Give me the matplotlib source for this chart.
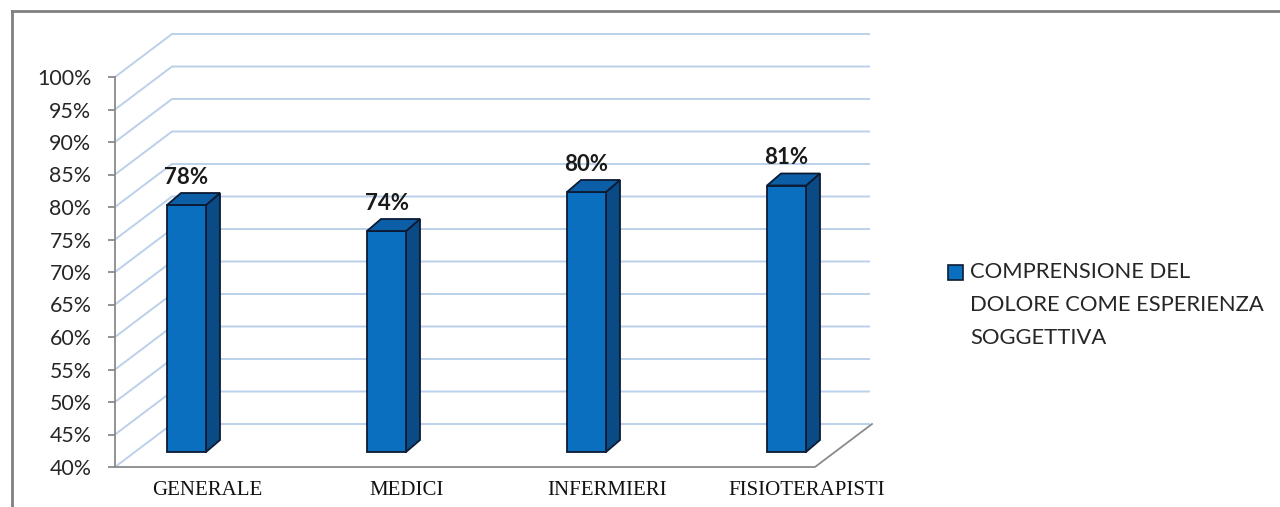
import matplotlib.pyplot as plt
from matplotlib.patches import Polygon, Rectangle
from matplotlib.lines import Line2D

categories = ["GENERALE", "MEDICI", "INFERMIERI", "FISIOTERAPISTI"]
values = [78, 74, 80, 81]
labels = ["78%", "74%", "80%", "81%"]
yticks = list(range(40, 101, 5))
legend_text = "COMPRENSIONE DEL\nDOLORE COME ESPERIENZA\nSOGGETTIVA"

FRONT = "#0A6FBE"
SIDE = "#0A4A85"
TOP = "#0C5EA6"
EDGE = "#0d1a33"
GRID = "#BBD0EA"
AXIS = "#8a8a8a"

W, H = 1280, 507
fig = plt.figure(figsize=(W / 100, H / 100), dpi=100)

# plot area in pixels: x 115..870, y 467 (40%) .. 34
px_per_cat = 200.0
px_per_pct = 6.5
x_lo = (115 - 207) / px_per_cat
x_hi = (870 - 207) / px_per_cat
y_lo = 40
y_hi = 40 + (467 - 34) / px_per_pct
ax = fig.add_axes([115 / W, (H - 467) / H, (870 - 115) / W, (467 - 34) / H])
ax.set_xlim(x_lo, x_hi)
ax.set_ylim(y_lo, y_hi)

# depth of the 3d box
ddx = 57 / px_per_cat
ddy = 43 / px_per_pct
floor_right = (815 - 207) / px_per_cat

# back wall gridlines with the diagonal on the left wall
for v in yticks:
    ax.plot([x_lo, x_lo + ddx, x_hi], [v, v + ddy, v + ddy],
            color=GRID, lw=1.4, zorder=1, clip_on=False, solid_capstyle="butt")

# floor outline
ax.plot([x_lo, floor_right, floor_right + ddx], [40, 40, 40 + ddy],
        color=AXIS, lw=1.3, zorder=2, clip_on=False)

# bars: front face via ax.bar, then side and top faces
bar_w = 39 / px_per_cat
bar_off = -40 / px_per_cat
base = 40 + 15 / px_per_pct
lift = 15 / px_per_pct
sx = 14 / px_per_cat
sy = 12 / px_per_pct
xs = [i + bar_off for i in range(len(categories))]
tops = [v + lift for v in values]
ax.bar(xs, [t - base for t in tops], width=bar_w, bottom=base, align="edge",
       color=FRONT, edgecolor=EDGE, linewidth=1.3, zorder=4)
for xl, yt, lab in zip(xs, tops, labels):
    xr = xl + bar_w
    ax.add_patch(Polygon([(xr, base), (xr + sx, base + sy), (xr + sx, yt + sy), (xr, yt)],
                         closed=True, facecolor=SIDE, edgecolor=EDGE, lw=1.3, zorder=3))
    ax.add_patch(Polygon([(xl, yt), (xl + sx, yt + sy), (xr + sx, yt + sy), (xr, yt)],
                         closed=True, facecolor=TOP, edgecolor=EDGE, lw=1.3, zorder=5))
    ax.text(xl + bar_w / 2, yt + sy + 0.8, lab, ha="center", va="bottom",
            fontsize=16, fontweight="bold", family="Lato", color="#1a1a1a", zorder=6)

# axes styling
for s in ["top", "right", "bottom"]:
    ax.spines[s].set_visible(False)
ax.spines["left"].set_bounds(40, 100)
ax.spines["left"].set_color(AXIS)
ax.spines["left"].set_linewidth(1.3)
ax.set_yticks(yticks)
ax.set_yticklabels([f"{v}%" for v in yticks], family="Lato", fontsize=15.4, color="#262626")
ax.tick_params(axis="y", direction="out", length=5, width=1.3, color=AXIS, pad=12)
ax.set_xticks(range(len(categories)))
ax.set_xticklabels(categories, family="Liberation Serif", fontsize=15, color="#111111")
ax.tick_params(axis="x", length=0, pad=10)
ax.patch.set_visible(False)

# legend drawn by hand so the key sits beside the first line
fig.patches.append(Rectangle((948 / W, 1 - 280 / H), 15 / W, 15 / H, transform=fig.transFigure,
                             facecolor=FRONT, edgecolor=EDGE, lw=1.2))
fig.text(970 / W, 1 - 262 / H, legend_text, ha="left", va="top", family="Lato",
         fontsize=15.8, color="#262626", linespacing=1.8)

# outer chart border
fig.add_artist(Line2D([12 / W, 1.0], [1 - 11 / H, 1 - 11 / H], transform=fig.transFigure,
                      color="#808080", lw=2))
fig.add_artist(Line2D([12 / W, 12 / W], [0, 1 - 11 / H], transform=fig.transFigure,
                      color="#808080", lw=2))

fig.savefig("out.png", dpi=100)
